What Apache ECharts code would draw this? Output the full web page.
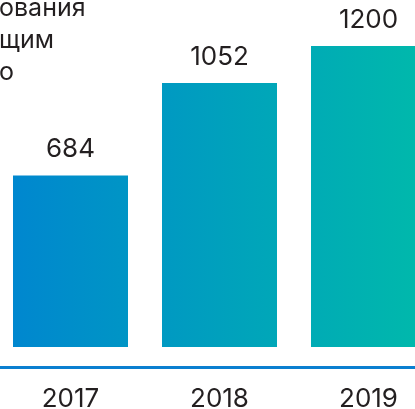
<!DOCTYPE html>
<html>
<head>
<meta charset="utf-8">
<script src="https://cdn.jsdelivr.net/npm/echarts@6/dist/echarts.min.js"></script>
<style>
  html, body { margin: 0; padding: 0; background: #fff; }
  #chart { width: 415px; height: 409px; }
</style>
</head>
<body>
<div id="chart"></div>
<script>
// Yearly totals
const years = ['2017', '2018', '2019'];
const totals = [684, 1052, 1200];
const headingLines = ['ования', 'щим', 'о'];

const textColor = '#231f20';
const fontFamily = 'Inter, "DejaVu Sans", sans-serif';

const chart = echarts.init(document.getElementById('chart'));

chart.setOption({
  animation: false,
  title: {
    text: headingLines.join('\n'),
    left: -1,
    top: -8,
    padding: 0,
    textStyle: {
      color: textColor,
      fontFamily: fontFamily,
      fontWeight: 'normal',
      fontSize: 25,
      lineHeight: 32
    }
  },
  grid: {
    left: -4, right: -28, top: 46, bottom: 62,
    containLabel: false,
    outerBoundsMode: 'none'
  },
  xAxis: {
    type: 'category',
    data: years,
    offset: 20,
    axisLine: { onZero: false, lineStyle: { color: '#0a7fd0', width: 3 } },
    axisTick: { show: false },
    axisLabel: {
      color: textColor,
      fontFamily: fontFamily,
      fontSize: 26,
      margin: 19
    }
  },
  yAxis: {
    type: 'value',
    min: 0,
    max: 1200,
    show: false,
    splitLine: { show: false }
  },
  series: [{
    type: 'bar',
    data: totals,
    barWidth: 115,
    itemStyle: {
      color: new echarts.graphic.LinearGradient(13, 0, 415, 0, [
        { offset: 0, color: '#0087cf' },
        { offset: 1, color: '#00b8ac' }
      ], true)
    },
    label: {
      show: true,
      position: 'top',
      distance: 13,
      color: textColor,
      fontFamily: fontFamily,
      fontSize: 26
    }
  }]
});
</script>
</body>
</html>
